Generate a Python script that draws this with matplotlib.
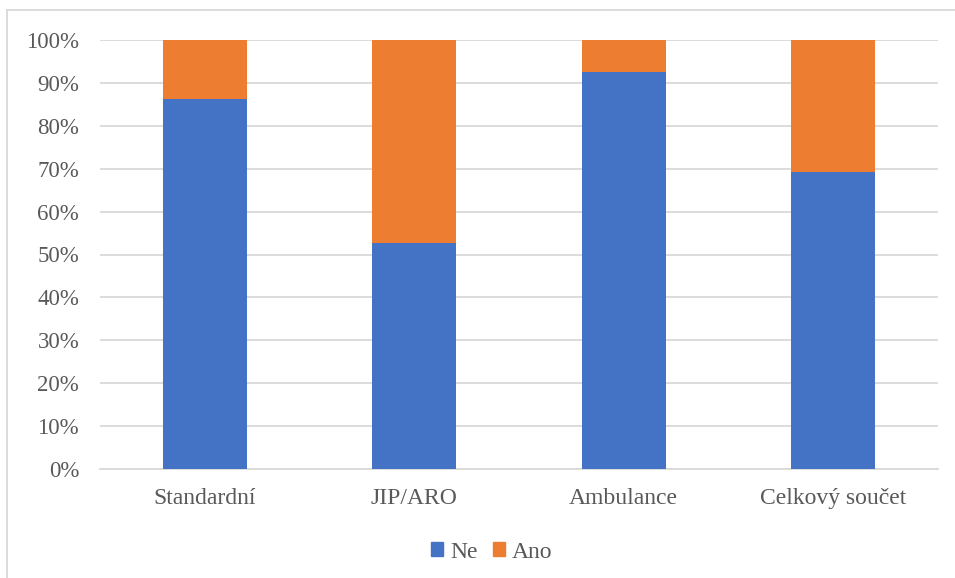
import matplotlib
matplotlib.use('Agg')
import matplotlib.pyplot as plt
from matplotlib.patches import Patch
from matplotlib.lines import Line2D
import numpy as np

plt.rcParams['font.family'] = ['Liberation Serif', 'DejaVu Serif']

categories = ['Standardní', 'JIP/ARO', 'Ambulance', 'Celkový součet']
ne = [86.2, 52.7, 92.5, 69.3]
ano = [100 - v for v in ne]
yticks = [0, 10, 20, 30, 40, 50, 60, 70, 80, 90, 100]

blue = '#4472C4'
orange = '#ED7D31'
txt = '#595959'
grid = '#D9D9D9'

fig = plt.figure(figsize=(9.55, 5.78), dpi=100)
ax = fig.add_axes([100/955, 1-469/578, 838/955, 429/578])

x = np.arange(len(categories))
ax.bar(x, ne, width=0.4, color=blue, zorder=3)
ax.bar(x, ano, width=0.4, bottom=ne, color=orange, zorder=3)

ax.set_xlim(-0.5, len(categories) - 0.5)
ax.set_ylim(0, 100)
ax.set_yticks(yticks)
ax.set_yticklabels(['%d%%' % t for t in yticks], fontsize=16.5, color=txt)
ax.set_xticks(x)
ax.set_xticklabels(categories, fontsize=17, color=txt)
ax.tick_params(length=0)
ax.tick_params(axis='y', pad=15)
ax.tick_params(axis='x', pad=14)
ax.yaxis.grid(True, color=grid, lw=1.3, zorder=0)
for s in ['top', 'right', 'left']:
    ax.spines[s].set_visible(False)
ax.spines['bottom'].set_color(grid)
ax.spines['bottom'].set_linewidth(1.3)

handles = [Patch(color=blue, label='Ne'), Patch(color=orange, label='Ano')]
leg = fig.legend(handles=handles, loc='center', bbox_to_anchor=(492/955, 1-552/578),
                 ncol=2, frameon=False, fontsize=17, handlelength=0.5, handleheight=0.5,
                 handletextpad=0.3, columnspacing=0.65)
for t in leg.get_texts():
    t.set_color(txt)

# chart border
fig.add_artist(Line2D([7/955, 7/955], [0, 1-10/578], transform=fig.transFigure, color=grid, lw=1.3))
fig.add_artist(Line2D([7/955, 1], [1-10/578, 1-10/578], transform=fig.transFigure, color=grid, lw=1.3))

fig.savefig('out.png', dpi=100)
